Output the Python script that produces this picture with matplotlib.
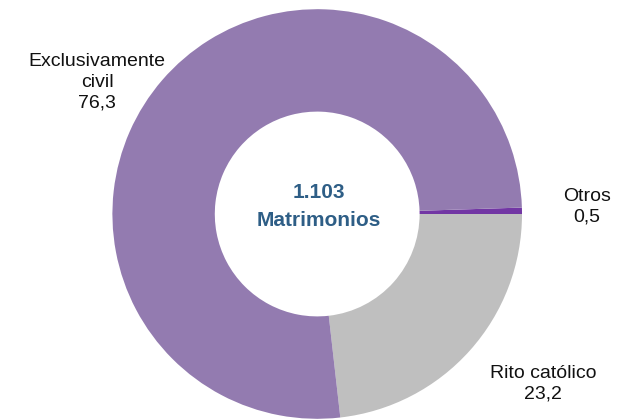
import matplotlib
matplotlib.use("Agg")
import matplotlib.pyplot as plt

categories = ["Otros", "Rito católico", "Exclusivamente\ncivil"]
values = [0.5, 23.2, 76.3]
value_labels = ["0,5", "23,2", "76,3"]
colors = ["#7236A4", "#BFBFBF", "#937BB0"]
total_label = "1.103"
center_label = "Matrimonios"

plt.rcParams['font.family'] = ['Liberation Sans', 'DejaVu Sans']

W, H = 630, 419
fig = plt.figure(figsize=(W / 100, H / 100), dpi=100)
ax = fig.add_axes([0, 0, 1, 1])

cx, cy, R = 317.2, 214.0, 204.8  # pixel layout of donut

ax.pie(values, colors=colors, startangle=1.8, counterclock=False,
       radius=1.0, center=(0, 0),
       wedgeprops=dict(width=0.5, linewidth=0))

ax.set_xlim(-cx / R, (W - cx) / R)
ax.set_ylim(-(H - cy) / R, cy / R)
ax.set_aspect('equal')
ax.axis('off')


def px(x, y):
    return (x - cx) / R, (cy - y) / R


label_pos = [(587, 207), (543, 384), (97, 82)]
for cat, vl, (lx, ly) in zip(categories, value_labels, label_pos):
    ax.text(*px(lx, ly), f"{cat}\n{vl}", ha='center', va='center',
            fontsize=14, color='#111111', linespacing=1.3)

ax.text(*px(319, 192), total_label, ha='center', va='center',
        fontsize=15, fontweight='bold', color='#2E5E86')
ax.text(*px(319, 220), center_label, ha='center', va='center',
        fontsize=15, fontweight='bold', color='#2E5E86')

fig.savefig("out.png", dpi=100)
